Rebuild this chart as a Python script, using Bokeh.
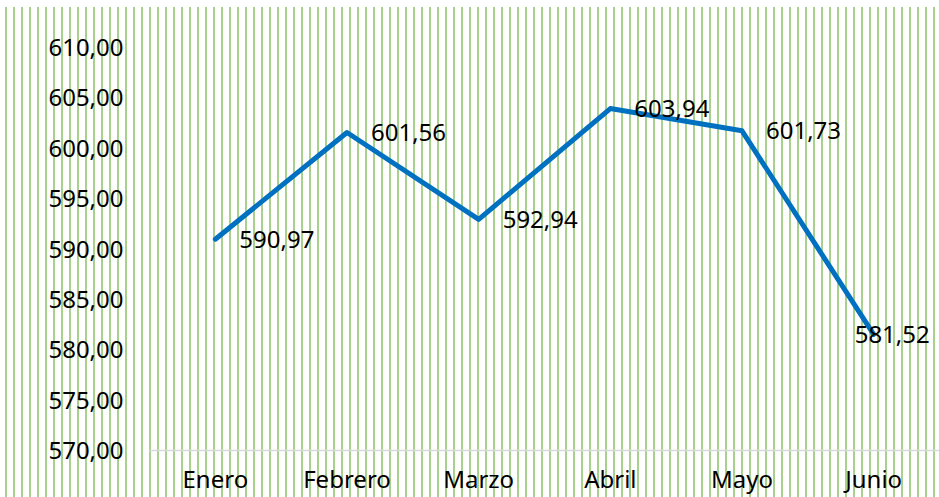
from bokeh.plotting import figure
from bokeh.models import Range1d, FixedTicker, ColumnDataSource
from bokeh.core.properties import value
from bokeh.embed import file_html
from bokeh.resources import INLINE

months = ["Enero", "Febrero", "Marzo", "Abril", "Mayo", "Junio"]
values = [590.97, 601.56, 592.94, 603.94, 601.73, 581.52]
y_ticks = [570, 575, 580, 585, 590, 595, 600, 605, 610]
y_tick_labels = ["570,00", "575,00", "580,00", "585,00", "590,00",
                 "595,00", "600,00", "605,00", "610,00"]

FONT = "Noto Sans"
xs = [i + 0.5 for i in range(len(months))]
labels = [f"{v:.2f}".replace(".", ",") for v in values]
offsets = [24] * (len(values) - 1) + [-19]

src = ColumnDataSource(dict(x=xs, y=values, label=labels, xo=offsets))

stripes = ("linear-gradient(90deg, transparent 0px, transparent 5px, "
           "#a9d18e 5px, #a9d18e 7px, transparent 7px, transparent 8px)")

p = figure(width=939, height=497, output_backend="svg", toolbar_location=None,
           x_range=Range1d(0, 6.0), y_range=Range1d(570, 610),
           min_border_left=149, min_border_top=47, min_border_bottom=47,
           min_border_right=0,
           styles={"background-image": stripes,
                   "background-size": "8px 490px",
                   "background-position": "0px 7px",
                   "background-repeat": "repeat-x"})
p.background_fill_color = None
p.border_fill_color = None
p.outline_line_color = None
p.grid.visible = False

p.line("x", "y", source=src, line_color="#0070c0", line_width=5,
       line_join="round", line_cap="round")
p.text("x", "y", text="label", source=src, x_offset="xo",
       text_align="left", text_baseline="middle",
       text_font=value(FONT), text_font_size=value("24px"), text_color="#000000")

xa = p.xaxis[0]
xa.ticker = FixedTicker(ticks=xs)
xa.major_label_overrides = {x: m for x, m in zip(xs, months)}
xa.axis_line_color = "#d9d9d9"
xa.axis_line_width = 1.5
xa.major_tick_line_color = None
xa.minor_tick_line_color = None
xa.major_tick_out = 0
xa.major_tick_in = 0
xa.major_label_standoff = 11
xa.major_label_text_font = FONT
xa.major_label_text_font_size = "24px"
xa.major_label_text_color = "#000000"

ya = p.yaxis[0]
ya.ticker = FixedTicker(ticks=y_ticks)
ya.major_label_overrides = {t: l for t, l in zip(y_ticks, y_tick_labels)}
ya.axis_line_color = None
ya.major_tick_line_color = None
ya.minor_tick_line_color = None
ya.major_tick_out = 0
ya.major_tick_in = 0
ya.major_label_standoff = 26
ya.major_label_text_font = FONT
ya.major_label_text_font_size = "24px"
ya.major_label_text_color = "#000000"

open("out.html", "w").write(file_html(p, INLINE))
